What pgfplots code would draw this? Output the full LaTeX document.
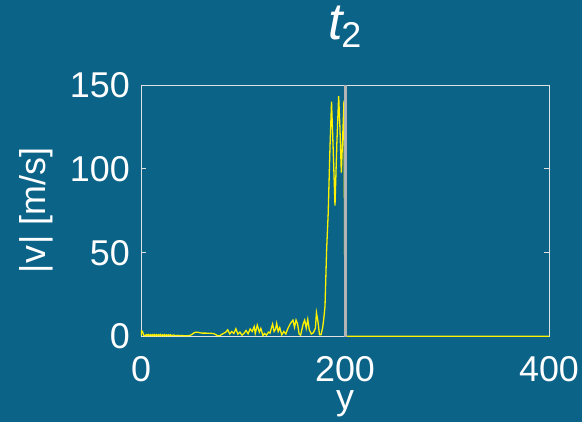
\documentclass[border=0pt]{standalone}
\usepackage{pgfplots}
\pgfplotsset{compat=1.18}
\usepackage{fontspec}
\setmainfont{Liberation Sans}
\definecolor{bg}{RGB}{11,99,136}
\definecolor{axc}{RGB}{225,225,225}
\definecolor{vline}{RGB}{180,180,180}
\begin{document}
\begin{tikzpicture}
\fill[bg] (-141bp,-85.5bp) rectangle (441bp,336.5bp);
\begin{axis}[
  at={(0,0)}, anchor=south west,
  scale only axis, width=408bp, height=251.5bp,
  xmin=0, xmax=400, ymin=0, ymax=150,
  xtick={0,200,400}, ytick={0,50,100,150},
  tick align=inside,
  major tick length=5bp,
  axis line style={axc, line width=0.9bp},
  every tick/.style={axc, line width=0.9bp},
  /pgf/number format/assume math mode=true,
  tick label style={font=\fontsize{36}{36}\selectfont, text=white, inner sep=0pt},
  xticklabel style={anchor=north, yshift=-20bp},
  yticklabel style={anchor=east, xshift=-11bp},
  xlabel={y},
  ylabel={|\kern1bp v\kern1bp| [m/s]},
  label style={font=\fontsize{36}{36}\selectfont, text=white, inner sep=0pt},
  xlabel style={at={([yshift=-73bp]axis description cs:0.5,0)}, anchor=base},
  ylabel style={at={([xshift=-95.6bp]axis description cs:0,0.5)}, anchor=base, rotate=0},
  title={{\fontsize{52}{52}\selectfont\itshape t}\kern-1.5bp\raisebox{-8.7bp}{\fontsize{36}{36}\selectfont 2}},
  title style={at={([yshift=40bp]axis description cs:0.5,1)}, anchor=base, text=white, inner sep=0pt},
]
\addplot[yellow, line width=1.3bp] coordinates {
(0,0.5) (0.5,3.3) (1.5,3.0) (2.5,0.8) (4,0.4) (5,1.1) (6,0.5) (7,1.2) (8,0.4) (9,1.1)
(10,0.5) (11,1.1) (12,0.4) (13,1.2) (14,0.5) (15,1.1) (16,0.4) (17,1.1) (18,0.5) (19,1.2)
(20,0.4) (21,1.0) (22,0.5) (23,1.1) (24,0.4) (25,1.0) (26,0.5) (27,1.0) (28,0.4) (29,1.0)
(30,0.5) (32,0.9) (34,0.5) (36,0.7) (38,0.5) (40,0.6) (43,0.4) (46,0.5) (48,0.6) (50,1.3)
(52,2.2) (54,2.6) (56,2.5) (58,2.2) (60,2.0) (64,2.0) (68,1.9) (71,1.8) (73,1.2) (75,0.5)
(77,0.4) (79,1.2) (81,1.9) (83,2.5) (85,4.0) (87,1.5) (89,3.0) (91,1.8) (93,4.6) (95,1.4)
(97,2.6) (99,0.8) (101,1.9) (103,3.6) (105,1.6) (107,4.5) (109,3.0) (111,5.9) (112,1.8) (114,6.8)
(116,2.6) (117.5,4.8) (119.5,0.6) (121,1.8) (123,0.8) (125,2.6) (126.5,2.0) (128,5.5) (129,7.4) (130.5,3.0)
(132,4.5) (133,7.8) (134.5,3.0) (136,5.3) (138,1.0) (140,3.0) (142,1.5) (144,4.8) (146.5,7.8) (149,9.8)
(150.5,5.5) (152,9.8) (153.5,7.5) (155,1.5) (156.5,0.8) (159,7.5) (160.5,9.8) (162,5.0) (163.5,10.2) (165,4.0)
(167,1.5) (169,2.2) (171,5.0) (172,14.2) (173.5,9.0) (175,1.0) (176.5,1.0) (178,5) (179,9.5) (180.4,18)
(182,52) (183.5,73) (185.3,113) (186.8,140) (188.5,110) (190.2,78) (192,115) (193.8,143.4) (195,125) (196.4,97.7)
(197.8,120) (199,140.6) (200,0.5) (201,0.2) (400,0.2)
};
\addplot[vline, line width=3.5bp] coordinates {(200.5,0) (200.5,150)};
\end{axis}
\end{tikzpicture}
\end{document}
